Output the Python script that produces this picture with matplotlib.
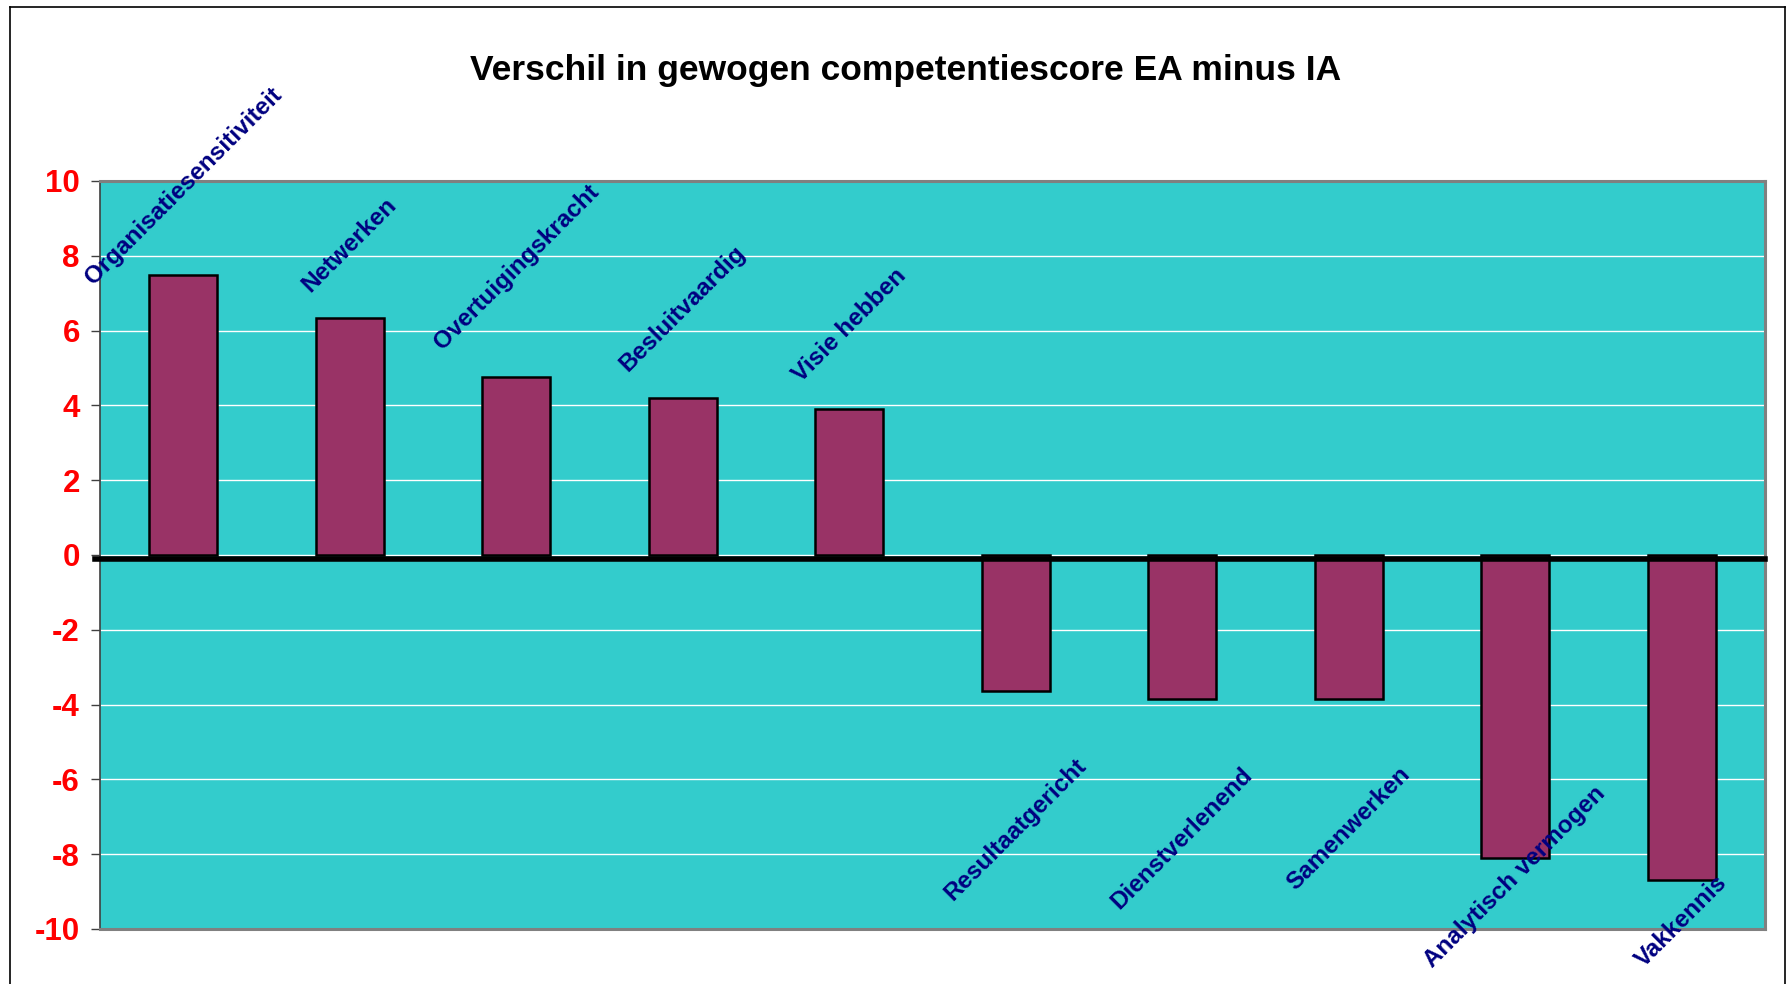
import matplotlib
matplotlib.use("Agg")
import matplotlib.pyplot as plt
from matplotlib import font_manager
from matplotlib.lines import Line2D
import numpy as np

# gegevens
competenties = ['Organisatiesensitiviteit', 'Netwerken', 'Overtuigingskracht',
                'Besluitvaardig', 'Visie hebben', 'Resultaatgericht',
                'Dienstverlenend', 'Samenwerken', 'Analytisch vermogen', 'Vakkennis']
verschil = [7.5, 6.33, 4.77, 4.19, 3.9, -3.63, -3.85, -3.85, -8.11, -8.7]
yticks = [-10, -8, -6, -4, -2, 0, 2, 4, 6, 8, 10]

W, H, DPI = 1787, 984, 100
fig = plt.figure(figsize=(W / DPI, H / DPI), dpi=DPI, facecolor='white')
ax = fig.add_axes([100 / W, 1 - 929 / H, 1665 / W, 748 / H])
ax.set_facecolor('#33CCCC')

x = np.arange(len(competenties))
ax.bar(x, verschil, width=0.41, color='#993366', edgecolor='black', linewidth=1.8, zorder=3)

ax.set_xlim(-0.5, len(competenties) - 0.5)
ax.set_ylim(-10, 10)
ax.set_yticks(yticks)
ax.set_yticklabels([str(v) for v in yticks])
ax.set_xticks([])
ax.grid(axis='y', color='white', linewidth=1.0, zorder=1)
ax.tick_params(axis='y', length=6.5, width=1.0, color='#404040', pad=8,
               labelsize=22.5, labelcolor='red')
for lbl in ax.get_yticklabels():
    lbl.set_fontweight('bold')
    lbl.set_family(['Liberation Sans', 'DejaVu Sans'])

for side in ['top', 'right', 'bottom']:
    ax.spines[side].set_color('#808080')
    ax.spines[side].set_linewidth(2.2)
ax.spines['left'].set_color('#404040')
ax.spines['left'].set_linewidth(1.2)

# dikke nullijn (iets onder 0, loopt net voorbij de linkerrand)
ax.plot([-0.003, 1], [-0.12, -0.12], color='black', linewidth=4, zorder=4,
        transform=ax.get_yaxis_transform(), clip_on=False)

# labels bij de staven
labels = []
for i, (naam, v) in enumerate(zip(competenties, verschil)):
    if v >= 0:
        t = ax.annotate(naam, xy=(i, v), xytext=(0, 16), textcoords='offset points',
                        rotation=45, ha='center', va='bottom')
    else:
        t = ax.annotate(naam, xy=(i, v), xytext=(0, -46), textcoords='offset points',
                        rotation=45, ha='center', va='top')
    t.set_fontsize(17.5)
    t.set_fontweight('bold')
    t.set_color('#000080')
    t.set_family(['Liberation Sans', 'DejaVu Sans'])
    t.set_annotation_clip(False)
    t.set_zorder(5)
    labels.append(t)

# titel: smal lettertype als het er is
namen = {f.name for f in font_manager.fontManager.ttflist}
if 'Liberation Sans Narrow' in namen:
    titel_font, titel_size = 'Liberation Sans Narrow', 31
else:
    titel_font, titel_size = 'Liberation Sans', 25.5
fig.text(906 / W, 1 - 80 / H, 'Verschil in gewogen competentiescore EA minus IA',
         ha='center', va='baseline', fontsize=titel_size, fontweight='bold',
         family=[titel_font, 'DejaVu Sans'])

# rand van het grafiekgebied
rand = dict(color='black', linewidth=1.2, transform=fig.transFigure, clip_on=False)
fig.add_artist(Line2D([10 / W, 10 / W], [0, 1 - 7 / H], **rand))
fig.add_artist(Line2D([10 / W, 1785 / W], [1 - 7 / H, 1 - 7 / H], **rand))
fig.add_artist(Line2D([1785 / W, 1785 / W], [0, 1 - 7 / H], **rand))

# labels binnen het grafiekgebied houden (zoals Excel doet)
fig.canvas.draw()
r = fig.canvas.get_renderer()
top_lim = H - 83
bottom_lim = H - 972
for t in labels:
    bb = t.get_window_extent(r)
    shift = 0
    if bb.y1 > top_lim:
        shift = top_lim - bb.y1
    elif bb.y0 < bottom_lim:
        shift = bottom_lim - bb.y0
    if shift:
        ox, oy = t.xyann
        t.xyann = (ox, oy + shift * 72 / DPI)

fig.savefig('out.png', dpi=DPI, facecolor='white')
